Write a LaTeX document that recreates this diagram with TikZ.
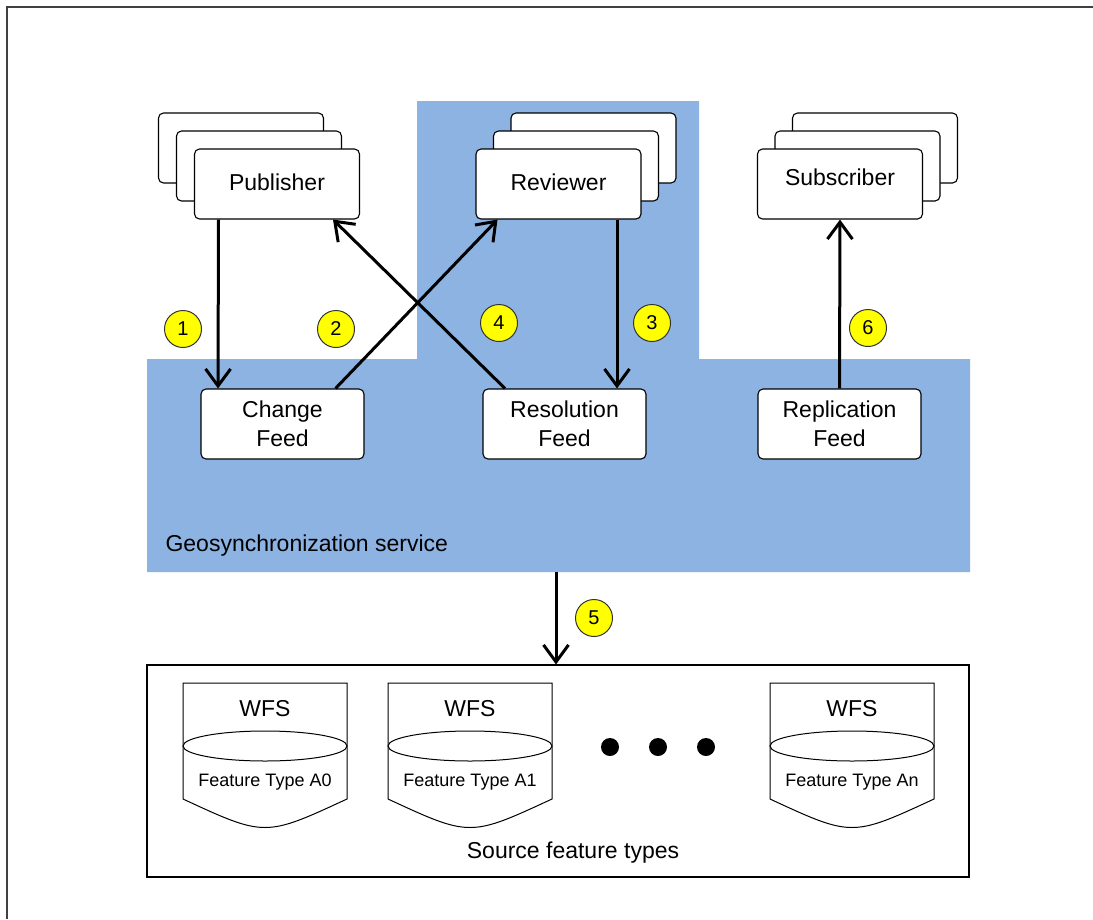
\documentclass[tikz,border=0pt]{standalone}
\usepackage{fontspec}
\setmainfont{Liberation Sans}
\usetikzlibrary{arrows.meta,calc}
\definecolor{svcblue}{RGB}{141,179,226}
\definecolor{numyellow}{RGB}{255,255,0}
\tikzset{
  bigfont/.style={font=\fontsize{23}{29}\selectfont},
  smallfont/.style={font=\fontsize{18}{20}\selectfont},
  actor/.style={draw=black, line width=1.1pt, rounded corners=5pt, fill=white,
    minimum width=165pt, minimum height=70pt, inner sep=0pt, bigfont},
  feedbox/.style={draw=black, line width=1.1pt, rounded corners=5pt, fill=white,
    minimum width=163pt, minimum height=70pt, inner sep=0pt, align=center, bigfont},
  arr/.style={line width=3pt, -{Straight Barb[length=17pt,width=25pt]}},
  num/.style={circle, draw=black!80, line width=1pt, fill=numyellow, minimum size=37pt,
    inner sep=0pt, font=\fontsize{20}{22}\selectfont},
  cyl/.style={draw=black, line width=1pt},
  dot/.style={circle, fill=black, minimum size=18pt, inner sep=0pt}
}
\begin{document}
\begin{tikzpicture}[x=1pt,y=-1pt]
\useasboundingbox (0,0) rectangle (1093,919);
% outer frame (top and left edges visible)
\draw[line width=1.6pt, black!75] (7,919) -- (7,7) -- (1093,7);
% service region
\fill[svcblue] (147,359) -- (417,359) -- (417,101) -- (699,101) -- (699,359)
  -- (970,359) -- (970,572) -- (147,572) -- cycle;
\node[anchor=west, bigfont] (svclabel) at (162,546) {Geosynchronization service};
\coordinate (svcbottom) at (556,572);
% Publisher stack (back boxes up-left)
\node[actor] (pubb2) at (241,148) {};
\node[actor] (pubb1) at (259,166) {};
\node[actor] (pub) at (277,184) {\raisebox{3pt}{Publisher}};
% Reviewer stack (back boxes up-right)
\node[actor] (revb2) at (593.5,148) {};
\node[actor] (revb1) at (576,166) {};
\node[actor] (rev) at (558.5,184) {\raisebox{3pt}{Reviewer}};
% Subscriber stack (back boxes up-right)
\node[actor] (subb2) at (875,148) {};
\node[actor] (subb1) at (857.5,166) {};
\node[actor] (sub) at (840,184) {\raisebox{13pt}{Subscriber}};
% Feeds
\node[feedbox] (chg) at (282.5,424) {Change\\Feed};
\node[feedbox] (res) at (564.5,424) {Resolution\\Feed};
\node[feedbox] (rep) at (839.5,424) {Replication\\Feed};
% Source box
\node[draw=black, line width=1.1pt, minimum width=822pt, minimum height=212pt, inner sep=0pt]
  (src) at (558,771) {};
\node[bigfont] (srclabel) at (573,853) {Source feature types};
% cylinders
\foreach \cx/\lab/\nm in {265/A0/c0, 470/A1/c1, 852/An/cn}{
  \draw[cyl, fill=white] (\cx-82,683) -- (\cx+82,683) -- (\cx+82,799)
    .. controls (\cx,837) .. (\cx-82,799) -- cycle;
  \draw[cyl] (\cx,746) ellipse [x radius=82, y radius=15];
  \node[bigfont] (\nm w) at (\cx,709) {WFS};
  \node[smallfont] (\nm f) at (\cx,782) {Feature Type \lab};
}
% dots
\node[dot] (d1) at (610,747) {};
\node[dot] (d2) at (658,747) {};
\node[dot] (d3) at (706,747) {};
% arrows
\draw[arr] ([xshift=-58.5pt]pub.south) -- ([xshift=-64.5pt]chg.north);
\draw[arr] ([xshift=53pt]chg.north) -- ([xshift=-61pt]rev.south);
\draw[arr] ([xshift=58.5pt]rev.south) -- ([xshift=52.5pt]res.north);
\draw[arr] ([xshift=-59.5pt]res.north) -- ([xshift=56pt]pub.south);
\draw[arr] (rep.north) -- (sub.south);
\draw[arr] (svcbottom) -- (svcbottom |- src.north);
% numbers
\node[num] (n1) at (183,329) {1};
\node[num] (n2) at (336,329) {2};
\node[num] (n3) at (652,323) {3};
\node[num] (n4) at (499,323) {4};
\node[num] (n5) at (594,618) {5};
\node[num] (n6) at (868,328) {6};
\end{tikzpicture}
\end{document}
